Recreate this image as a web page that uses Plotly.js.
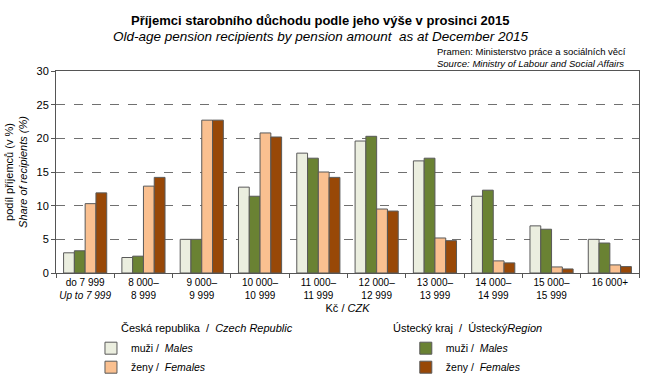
<!DOCTYPE html>
<html><head><meta charset="utf-8">
<script src="https://cdn.plot.ly/plotly-3.0.1.min.js"></script>
<style>body{margin:0;padding:0;background:#fff}#chart{width:654px;height:384px}</style>
</head><body><div id="chart"></div>
<script>
const categories = ["do 7 999<br><i>Up to 7 999</i>","8 000–<br>8 999","9 000–<br>9 999","10 000–<br>10 999","11 000–<br>11 999","12 000–<br>12 999","13 000–<br>13 999","14 000–<br>14 999","15 000–<br>15 999","16 000+"];
const crMales     = [3.0, 2.3, 5.0, 12.75, 17.8, 19.6, 16.65, 11.4, 7.0, 5.0];
const usMales     = [3.3, 2.5, 5.0, 11.4, 17.05, 20.3, 17.05, 12.3, 6.5, 4.45];
const crFemales   = [10.3, 12.9, 22.7, 20.8, 15.0, 9.5, 5.2, 1.8, 0.9, 1.2];
const usFemales   = [11.9, 14.2, 22.7, 20.2, 14.2, 9.2, 4.8, 1.5, 0.6, 0.95];
const yTicks = [0, 5, 10, 15, 20, 25, 30];

const line = {color:'#595959', width:1};
const font = {family:'Liberation Sans, Arial, sans-serif', size:11, color:'#000'};
const traces = [
  {type:'bar', x:categories, y:crMales, name:'muži /  <i>Males</i>', marker:{color:'#EBEEDF', line:line}, legend:'legend'},
  {type:'bar', x:categories, y:usMales, name:'muži /  <i>Males</i>', marker:{color:'#6A8233', line:line}, legend:'legend2'},
  {type:'bar', x:categories, y:crFemales, name:'ženy /  <i>Females</i>', marker:{color:'#FAC090', line:line}, legend:'legend'},
  {type:'bar', x:categories, y:usFemales, name:'ženy /  <i>Females</i>', marker:{color:'#984807', line:line}, legend:'legend2'}
];
const layout = {
  width:654, height:384,
  margin:{l:56, r:15, t:71, b:111},
  font:font,
  paper_bgcolor:'#fff', plot_bgcolor:'#fff',
  barmode:'group', bargap:0.26, bargroupgap:0,
  xaxis:{type:'category', showline:true, mirror:true, linecolor:'#555', linewidth:1, automargin:false,
         ticks:'outside', tickson:'boundaries', ticklen:4, tickcolor:'#555', tickangle:0,
         tickfont:{size:10}, title:{text:'Kč / <i>CZK</i>', font:{size:11}, standoff:4}},
  yaxis:{range:[0,30], tickvals:yTicks, showline:true, mirror:true, linecolor:'#555', linewidth:1, automargin:false,
         ticks:'outside', ticklen:4, tickcolor:'#555', tickfont:{size:11},
         showgrid:true, gridcolor:'#707070', griddash:'dash', gridwidth:1, zeroline:false,
         title:{text:'podíl příjemců (v %)<br><i>Share of recipients (%)</i>', font:{size:11}, standoff:6}},
  showlegend:true,
  legend:{x:0.06, xanchor:'left', yref:'container', y:0.131, yanchor:'top', orientation:'v', font:{size:10.5}, bgcolor:'rgba(0,0,0,0)', tracegroupgap:0},
  legend2:{x:0.60, xanchor:'left', yref:'container', y:0.131, yanchor:'top', orientation:'v', font:{size:10.5}, bgcolor:'rgba(0,0,0,0)', tracegroupgap:0},
  annotations:[
    {text:'<b>Příjemci starobního důchodu podle jeho výše v prosinci 2015</b>', xref:'paper', yref:'paper', x:0.5, xanchor:'center', y:1.252, yanchor:'middle', showarrow:false, font:{size:13}, xshift:-27},
    {text:'<i>Old-age pension recipients by pension amount  as at December 2015</i>', xref:'paper', yref:'paper', x:0.5, xanchor:'center', y:1.173, yanchor:'middle', showarrow:false, font:{size:13.5}, xshift:-27},
    {text:'Pramen: Ministerstvo práce a sociálních věcí<br><i>Source: Ministry of Labour and Social Affairs</i>', xref:'paper', yref:'paper', x:1.0, xanchor:'right', y:1.067, yanchor:'middle', align:'left', showarrow:false, font:{size:9.5}, xshift:-11},
    {text:'Česká republika  /  <i>Czech Republic</i>', xref:'paper', yref:'paper', x:0.108, xanchor:'left', y:-0.272, yanchor:'middle', showarrow:false, font:{size:11}},
    {text:'Ústecký kraj  /  Ústecký<i>Region</i>', xref:'paper', yref:'paper', x:0.575, xanchor:'left', y:-0.272, yanchor:'middle', showarrow:false, font:{size:11}}
  ]
};
Plotly.newPlot('chart', traces, layout, {displayModeBar:false, staticPlot:true});
</script></body></html>
